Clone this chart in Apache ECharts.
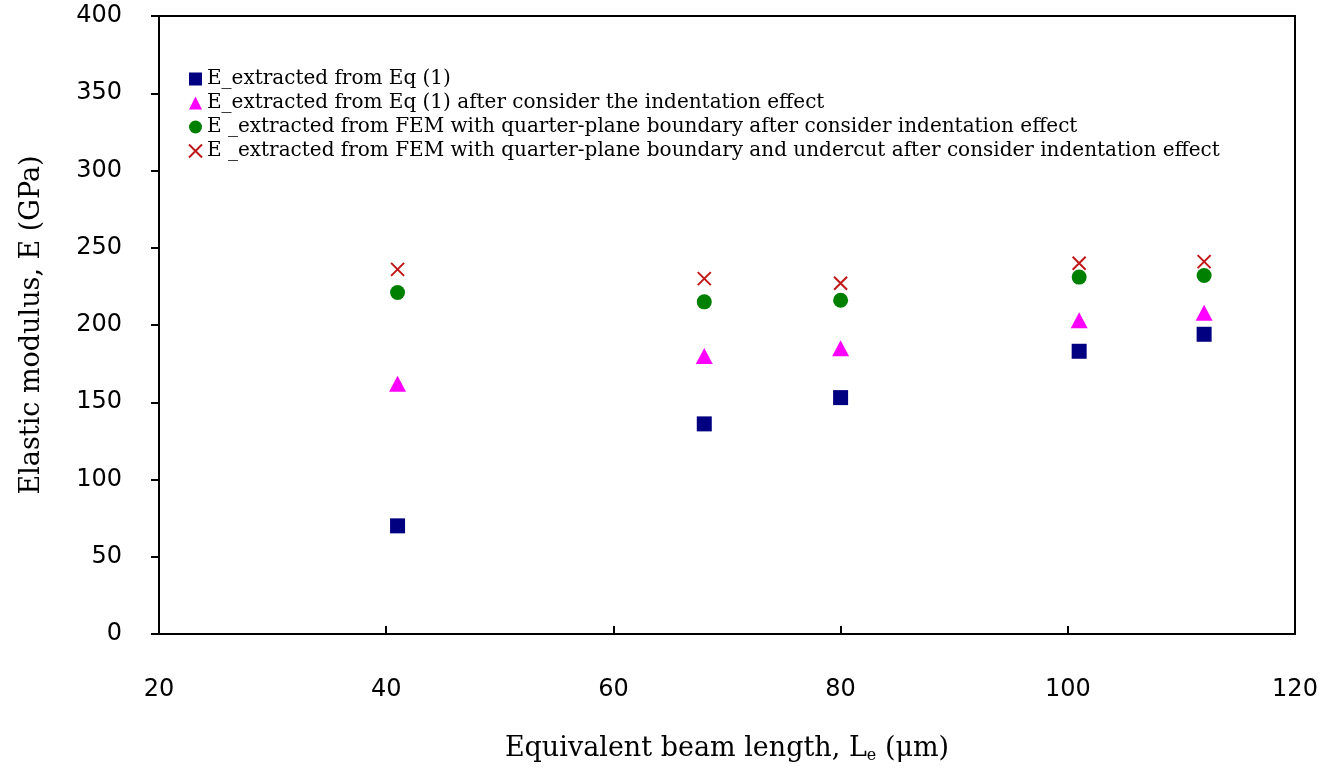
<!DOCTYPE html>
<html>
<head>
<meta charset="utf-8">
<script src="https://cdn.jsdelivr.net/npm/echarts@6/dist/echarts.min.js"></script>
<style>
html, body { margin: 0; padding: 0; background: #fff; }
#chart { width: 1328px; height: 768px; }
</style>
</head>
<body>
<div id="chart"></div>
<script>
// beam lengths (um)
var beamLen = [41, 68, 80, 101, 112];
var eqOne = [70, 136, 153, 183, 194];
var eqOneIndent = [162, 180, 185, 203, 208];
var femQuarter = [221, 215, 216, 231, 232];
var femUndercut = [236, 230, 227, 240, 241];

var seriesNames = [
	'E_extracted from Eq (1)',
	'E_extracted from Eq (1) after consider the indentation effect',
	'E _extracted from FEM with quarter-plane boundary after consider indentation effect',
	'E _extracted from FEM with quarter-plane boundary and undercut after consider indentation effect'
];

function pairs(vals) {
	var out = [];
	for (var i = 0; i < beamLen.length; i++)
		out.push([beamLen[i], vals[i]]);
	return out;
}

var serif = '"DejaVu Serif", "Liberation Serif", serif';
var sans = '"DejaVu Sans", sans-serif';
var crossPath = 'path://M0,0L10,10M10,0L0,10';
var myChart = echarts.init(document.getElementById('chart'));

var option = {
	animation: false,
	grid: {
		left: 159, top: 16, right: 33, bottom: 134,
		outerBoundsMode: 'none',
		containLabel: false,
		show: true, borderColor: '#000', borderWidth: 2
	},
	legend: {
		orient: 'vertical',
		left: 183, top: 62,
		itemGap: 0,
		itemWidth: 13, itemHeight: 13,
		textStyle: { fontFamily: serif, fontSize: 20, color: '#000', lineHeight: 24 },
		data: [
			{ name: seriesNames[0], icon: 'rect' },
			{ name: seriesNames[1], icon: 'triangle' },
			{ name: seriesNames[2], icon: 'circle' },
			{ name: seriesNames[3], icon: crossPath }
		]
	},
	xAxis: {
		type: 'value',
		min: 20, max: 120, interval: 20,
		name: '{n|Equivalent beam length, L}{s|e}{n| (\u03bcm)}',
		nameLocation: 'middle',
		nameGap: 100,
		nameTextStyle: {
			rich: {
				n: { fontFamily: serif, fontSize: 27, color: '#000' },
				s: { fontFamily: serif, fontSize: 16, color: '#000', padding: [14, 0, 0, 0] }
			}
		},
		axisLine: { lineStyle: { color: '#000', width: 2 } },
		axisTick: { inside: true, length: 8, lineStyle: { color: '#000', width: 2 } },
		axisLabel: { margin: 44, fontFamily: sans, fontSize: 24, color: '#000' },
		splitLine: { show: false }
	},
	yAxis: {
		type: 'value',
		min: 0, max: 400, interval: 50,
		name: 'Elastic modulus, E (GPa)',
		nameLocation: 'middle',
		nameGap: 114,
		nameTextStyle: { fontFamily: serif, fontSize: 27, color: '#000' },
		axisLine: { lineStyle: { color: '#000', width: 2 } },
		axisTick: { inside: false, length: 8, lineStyle: { color: '#000', width: 2 } },
		axisLabel: { margin: 37, fontFamily: sans, fontSize: 24, color: '#000' },
		splitLine: { show: false }
	},
	series: [
		{
			name: seriesNames[0], type: 'scatter', symbol: 'rect', symbolSize: 15,
			itemStyle: { color: '#000080', opacity: 1 },
			data: pairs(eqOne)
		},
		{
			name: seriesNames[1], type: 'scatter', symbol: 'triangle', symbolSize: [17, 16],
			itemStyle: { color: '#ff00ff', opacity: 1 },
			data: pairs(eqOneIndent)
		},
		{
			name: seriesNames[2], type: 'scatter', symbol: 'circle', symbolSize: 15,
			itemStyle: { color: '#008000', opacity: 1 },
			data: pairs(femQuarter)
		},
		{
			name: seriesNames[3], type: 'scatter', symbol: crossPath, symbolSize: 13,
			itemStyle: { color: '#c01818', borderColor: '#c01818', borderWidth: 2, opacity: 1 },
			data: pairs(femUndercut)
		}
	]
};

myChart.setOption(option);
</script>
</body>
</html>
